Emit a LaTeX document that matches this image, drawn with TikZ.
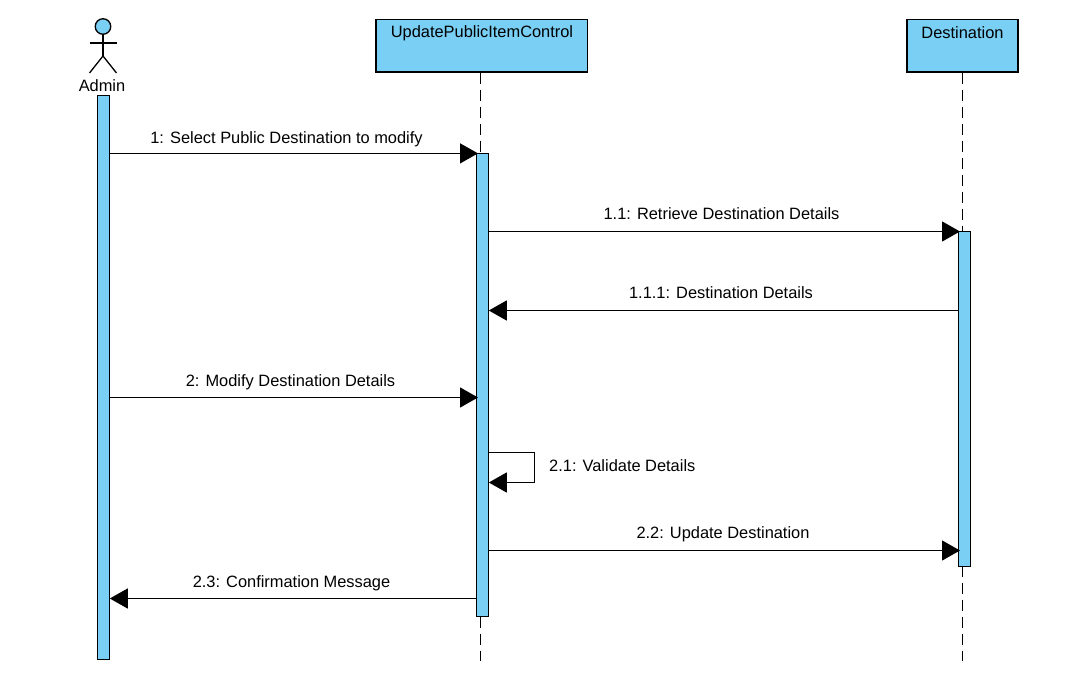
\documentclass[tikz,border=0pt]{standalone}
\usepackage{fontspec}
\setmainfont{Liberation Sans}
\usetikzlibrary{arrows.meta}
\definecolor{umlblue}{RGB}{122,207,245}
\tikzset{
  x=1pt,y=-1pt,
  lineb/.style={draw=black,line width=1.3pt},
  head/.style={lineb,fill=umlblue,rectangle,inner sep=0pt,anchor=north west},
  headtext/.style={font=\fontsize{16.4pt}{18pt}\selectfont,inner sep=0pt,anchor=center},
  bar/.style={lineb,fill=umlblue,rectangle,inner sep=0pt,anchor=north west,minimum width=11.5pt},
  life/.style={line width=1.3pt,dash pattern=on 11.5pt off 5.5pt},
  msg/.style={line width=1.3pt,-{Triangle[length=18pt,width=20pt]},shorten >=-2pt},
  rmsg/.style={line width=1.3pt,-{Triangle[length=18pt,width=20pt]}},
  lbl/.style={font=\fontsize{16.4pt}{18pt}\selectfont,inner sep=0pt,anchor=center},
}
\begin{document}
\begin{tikzpicture}
\useasboundingbox (0,0) rectangle (1082,695);
\fill[white] (0,0) rectangle (1082,695);
% heads
\node[head,minimum width=211.5pt,minimum height=52.5pt] (ctrl) at (375.2,18.8) {};
\node[headtext] (ctrltext) at (482,33.5) {UpdatePublicItemControl};
\node[head,minimum width=111pt,minimum height=52.5pt] (dest) at (906.2,18.8) {};
\node[headtext] (desttext) at (962.5,32.5) {Destination};
% lifeline ends
\coordinate (ctrlend) at (480.5,661);
\coordinate (destend) at (962.5,661);
\draw[life] (ctrl.south -| ctrlend) -- (ctrlend);
\draw[life] (dest.south -| destend) -- (destend);
% actor
\node[lineb,fill=umlblue,circle,minimum size=15.5pt,inner sep=0pt] (actorhead) at (103,26.5) {};
\coordinate (hip) at (103,56);
\coordinate (armL) at (89.5,43);
\coordinate (armR) at (116.5,43);
\coordinate (legL) at (89.5,73);
\coordinate (legR) at (116.5,73);
\draw[line width=1.3pt] (actorhead.south) -- (hip);
\draw[line width=1.3pt] (armL) -- (armR);
\draw[line width=1.3pt] (legL) -- (hip) -- (legR);
\node[lbl] (admin) at (102,86) {Admin};
% activation bars
\node[bar,minimum height=564pt] (barA) at (97,94.8) {};
\node[bar,minimum height=463pt] (barC) at (476,152.8) {};
\node[bar,minimum height=335pt] (barD) at (958,230.8) {};
% message levels
\coordinate (m1) at (0,153.4);
\coordinate (m2) at (0,231.5);
\coordinate (m3) at (0,310.5);
\coordinate (m4) at (0,397.5);
\coordinate (m5a) at (0,452.5);
\coordinate (m5b) at (0,482.5);
\coordinate (m6) at (0,550.5);
\coordinate (m7) at (0,598.5);
\coordinate (selfx) at (534.5,0);
\draw[msg] (barA.east |- m1) -- (barC.west |- m1);
\draw[msg] (barC.east |- m2) -- (barD.west |- m2);
\draw[rmsg] (barD.west |- m3) -- (barC.east |- m3);
\draw[msg] (barA.east |- m4) -- (barC.west |- m4);
\draw[rmsg] (barC.east |- m5a) -- (selfx |- m5a) -- (selfx |- m5b) -- (barC.east |- m5b);
\draw[msg] (barC.east |- m6) -- (barD.west |- m6);
\draw[rmsg] (barC.west |- m7) -- (barA.east |- m7);
% labels
\node[lbl] (l1) at (286.5,139) {1: Select Public Destination to modify};
\node[lbl] (l2) at (721.5,214) {1.1: Retrieve Destination Details};
\node[lbl] (l3) at (721,293) {1.1.1: Destination Details};
\node[lbl] (l4) at (290.5,382) {2: Modify Destination Details};
\node[lbl,anchor=west] (l5) at (549,466) {2.1: Validate Details};
\node[lbl] (l6) at (723,534) {2.2: Update Destination};
\node[lbl] (l7) at (291.5,583) {2.3: Confirmation Message};
\end{tikzpicture}
\end{document}
